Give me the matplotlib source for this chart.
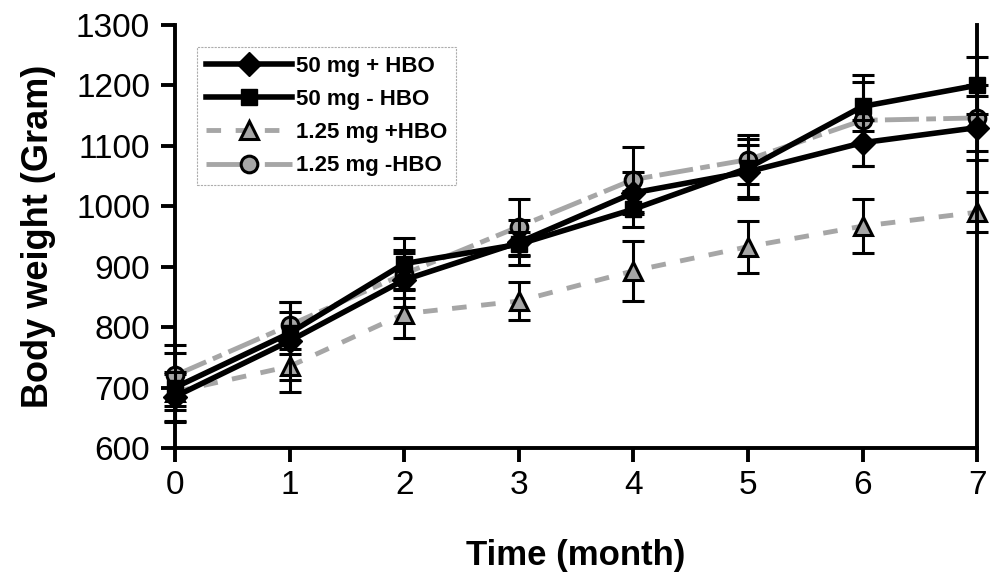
import matplotlib
matplotlib.use("Agg")
import matplotlib.pyplot as plt
from matplotlib.lines import Line2D

plt.rcParams['font.family'] = ['Liberation Sans', 'DejaVu Sans']

# data
months = [0, 1, 2, 3, 4, 5, 6, 7]

hbo50 = [685, 777, 878, 940, 1022, 1057, 1105, 1130]
hbo50_err = [40, 65, 44, 37, 35, 45, 38, 53]

nohbo50 = [700, 790, 905, 937, 995, 1063, 1165, 1200]
nohbo50_err = [57, 35, 42, 20, 30, 48, 40, 47]

hbo125 = [693, 735, 822, 843, 893, 933, 967, 990]
hbo125_err = [30, 42, 40, 32, 50, 43, 45, 33]

nohbo125 = [720, 803, 888, 966, 1044, 1077, 1142, 1146]
nohbo125_err = [50, 39, 40, 46, 54, 40, 75, 55]

gray = "#a6a6a6"

# styles per series
st_hbo50 = dict(color="black", lw=4, marker="D", ms=12)
st_nohbo50 = dict(color="black", lw=4, marker="s", ms=12)
st_hbo125 = dict(color=gray, lw=3.5, dashes=(3, 3), marker="^", ms=13,
                 mfc=gray, mec="black", mew=2.2)
st_nohbo125 = dict(color=gray, lw=3.5, dashes=(7, 1.5, 2, 1.5), marker="o", ms=12,
                   mfc=gray, mec="black", mew=2.2)

fig = plt.figure(figsize=(9.91, 5.78), dpi=100)
ax = fig.add_axes([0.1766, 0.225, 0.8094, 0.732])

err_kw = dict(ecolor="black", elinewidth=2.2, capsize=8, capthick=2.2, clip_on=False)

ax.errorbar(months, hbo125, yerr=hbo125_err, zorder=2, **st_hbo125, **err_kw)
ax.errorbar(months, nohbo125, yerr=nohbo125_err, zorder=3, **st_nohbo125, **err_kw)
ax.errorbar(months, hbo50, yerr=hbo50_err, zorder=4, **st_hbo50, **err_kw)
ax.errorbar(months, nohbo50, yerr=nohbo50_err, zorder=5, **st_nohbo50, **err_kw)

ax.set_xlim(0, 7)
ax.set_ylim(600, 1300)
ax.set_xticks(months)
ax.set_yticks(range(600, 1301, 100))

ax.spines["top"].set_visible(False)
for s in ["left", "bottom", "right"]:
    ax.spines[s].set_linewidth(2.8)

ax.tick_params(axis="both", direction="out", length=10, width=2.8, labelsize=24)
ax.tick_params(axis="y", pad=8, right=False)
ax.tick_params(axis="x", pad=6)

ax.set_xlabel("Time (month)", fontsize=25, fontweight="bold", labelpad=27)
ax.set_ylabel("Body weight (Gram)", fontsize=26, fontweight="bold", labelpad=14)

handles = [Line2D([], [], **st_hbo50), Line2D([], [], **st_nohbo50),
           Line2D([], [], **st_hbo125), Line2D([], [], **st_nohbo125)]
labels = ["50 mg + HBO", "50 mg - HBO", "1.25 mg +HBO", "1.25 mg -HBO"]
leg = ax.legend(handles, labels, loc="upper left", bbox_to_anchor=(0.027, 0.948),
                frameon=True, fancybox=False, handlelength=3.9, handletextpad=0.15,
                borderpad=0.4, labelspacing=0.55, borderaxespad=0,
                prop={"size": 16, "weight": "bold"})
leg.get_frame().set_edgecolor("#999999")
leg.get_frame().set_linewidth(0.8)
leg.get_frame().set_linestyle((0, (2, 1)))

fig.savefig("out.png", dpi=100)
